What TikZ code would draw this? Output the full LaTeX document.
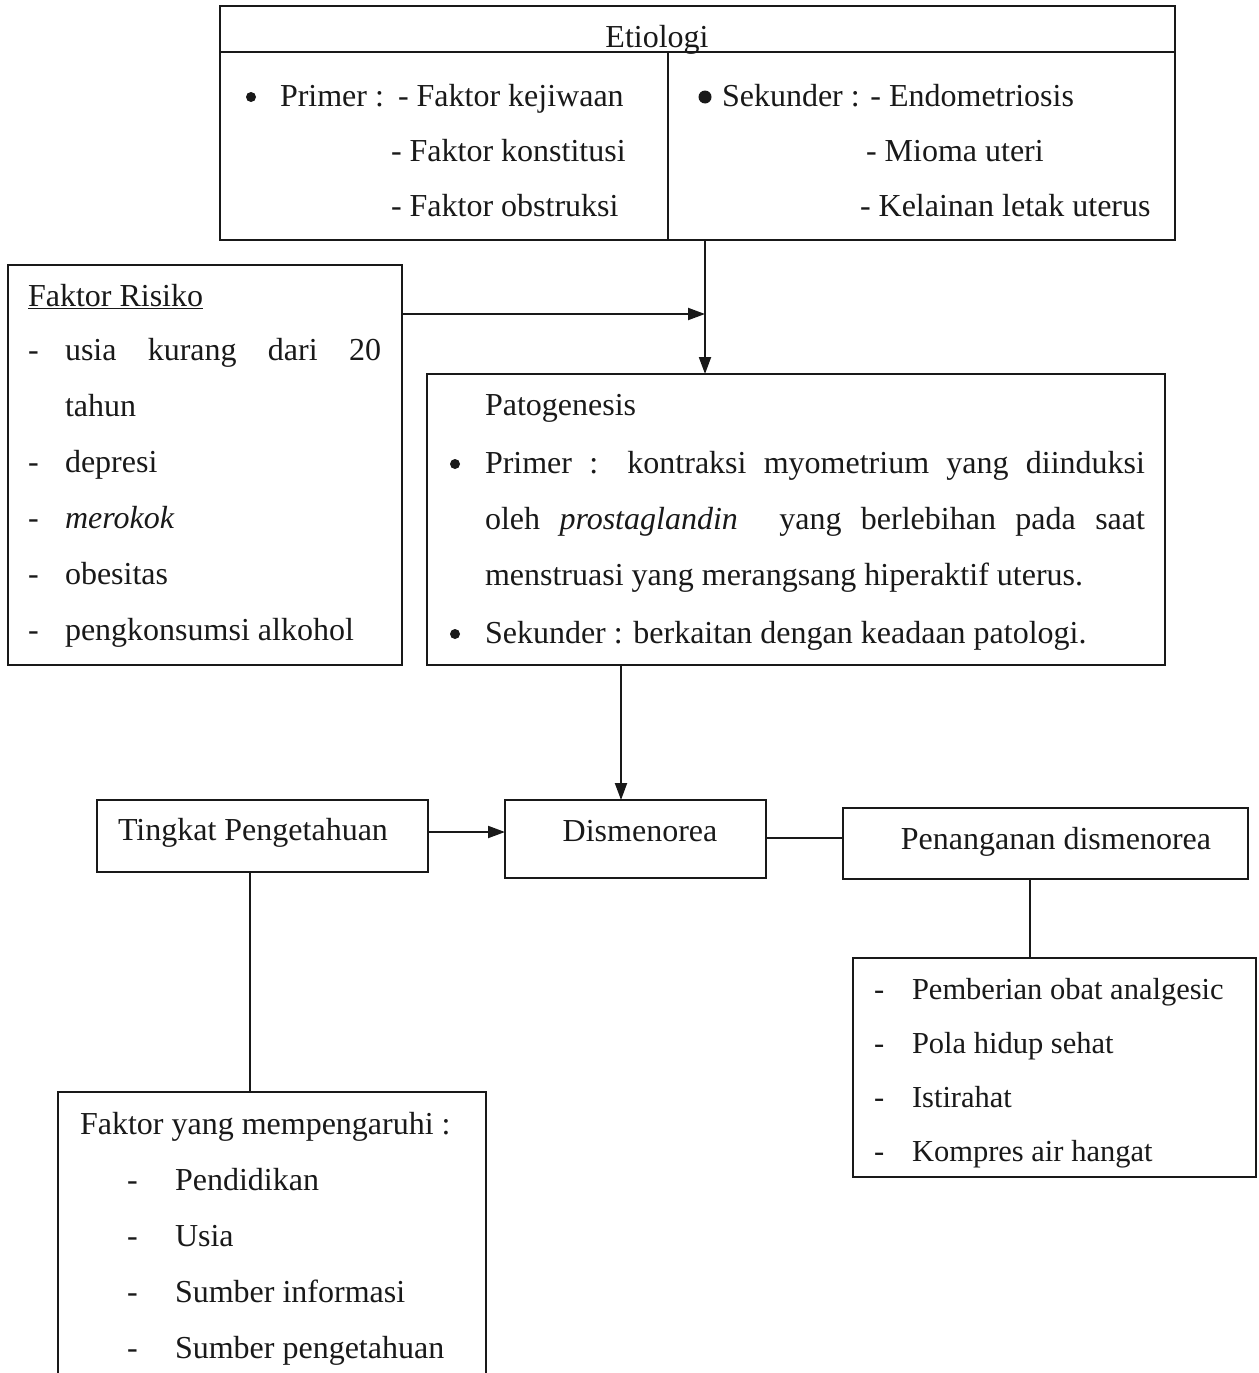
\documentclass[tikz,border=0pt]{standalone}
\usepackage{fontspec}
\setmainfont{Liberation Serif}
\usetikzlibrary{arrows.meta}
\begin{document}
\begin{tikzpicture}[x=1pt,y=-1pt,font=\fontsize{32}{38}\selectfont,
  box/.style={draw=black!90,line width=2.2pt,inner sep=0pt,outer sep=0pt,anchor=north west},
  openbox/.style={inner sep=0pt,outer sep=0pt,anchor=north west},
  txt/.style={anchor=base west,inner sep=0pt,outer sep=0pt,text=black!90},
  ctxt/.style={anchor=base,inner sep=0pt,outer sep=0pt,text=black!90},
  small/.style={font=\fontsize{30.5}{36}\selectfont},
  bul/.style={anchor=center,inner sep=0pt,outer sep=0pt,circle,fill=black!90,minimum size=10pt},
  conn/.style={draw=black!90,line width=2pt},
  arr/.style={conn,-{Triangle[length=17pt,width=12pt]}}]
\useasboundingbox[fill=white] (0,0) rectangle (1258,1373);

% ---------- boxes ----------
\node[box,minimum width=955pt,minimum height=234pt] (etio) at (220,6) {};
\node[box,minimum width=394pt,minimum height=400pt] (risk) at (8,265) {};
\node[box,minimum width=738pt,minimum height=291pt] (pato) at (427,374) {};
\node[box,minimum width=331pt,minimum height=72pt] (ting) at (97,800) {};
\node[box,minimum width=261pt,minimum height=78pt] (dism) at (505,800) {};
\node[box,minimum width=405pt,minimum height=71pt] (pen) at (843,808) {};
\node[box,minimum width=403pt,minimum height=219pt] (list) at (853,958) {};
\node[openbox,minimum width=428pt,minimum height=290pt] (fak) at (58,1092) {};
\draw[conn,line width=2.2pt] (fak.south west) -- (fak.north west) -- (fak.north east) -- (fak.south east);

% Etiologi table lines
\draw[conn,line width=2.2pt] ([yshift=-46pt]etio.north west) -- ([yshift=-46pt]etio.north east);
\coordinate (dv) at (668,0);
\draw[conn,line width=2.2pt] ([yshift=-46pt]etio.north -| dv) -- (etio.south -| dv);

% ---------- texts ----------
\node[ctxt] (t-etio) at (657,47) {Etiologi};
\node[bul] (t-b1) at (251,97) {};
\node[txt] (t-prim) at (280,106) {Primer :};
\node[txt] (t-p1) at (398,106) {- Faktor kejiwaan};
\node[txt] (t-p2) at (391,161) {- Faktor konstitusi};
\node[txt] (t-p3) at (391,216) {- Faktor obstruksi};
\node[bul,minimum size=13pt] (t-b2) at (705,97) {};
\node[txt] (t-s0) at (722,106) {Sekunder : - Endometriosis};
\node[txt] (t-s2) at (866,161) {- Mioma uteri};
\node[txt] (t-s3) at (860,216) {- Kelainan letak uterus};

\node[txt] (t-risk) at (28,306) {\underline{Faktor Risiko}};
\node[txt] (t-rd1) at (28,360) {-};
\node[txt] (t-r1) at (65,360) {\makebox[316pt][s]{usia kurang dari 20}};
\node[txt] (t-r1b) at (65,416) {tahun};
\node[txt] (t-rd2) at (28,472) {-};
\node[txt] (t-r2) at (65,472) {depresi};
\node[txt] (t-rd3) at (28,528) {-};
\node[txt] (t-r3) at (65,528) {\textit{merokok}};
\node[txt] (t-rd4) at (28,584) {-};
\node[txt] (t-r4) at (65,584) {obesitas};
\node[txt] (t-rd5) at (28,640) {-};
\node[txt] (t-r5) at (65,640) {pengkonsumsi alkohol};

\node[txt] (t-pato) at (485,415) {Patogenesis};
\node[bul] (t-pb1) at (455,464) {};
\node[txt] (t-pa1) at (485,473) {\makebox[660pt][s]{Primer : kontraksi myometrium yang diinduksi}};
\node[txt] (t-pa2) at (485,529) {\makebox[660pt][s]{oleh \textit{prostaglandin}\hspace{22pt} yang berlebihan pada saat}};
\node[txt] (t-pa3) at (485,585) {menstruasi yang merangsang hiperaktif uterus.};
\node[bul] (t-pb2) at (455,634) {};
\node[txt] (t-pa4) at (485,643) {Sekunder : berkaitan dengan keadaan patologi.};

\node[ctxt] (t-ting) at (253,840) {Tingkat Pengetahuan};
\node[ctxt] (t-dism) at (640,841) {Dismenorea};
\node[ctxt] (t-pen) at (1056,849) {Penanganan dismenorea};

\node[txt,small] (t-ld1) at (874,999) {-};
\node[txt,small] (t-l1) at (912,999) {Pemberian obat analgesic};
\node[txt,small] (t-ld2) at (874,1053) {-};
\node[txt,small] (t-l2) at (912,1053) {Pola hidup sehat};
\node[txt,small] (t-ld3) at (874,1107) {-};
\node[txt,small] (t-l3) at (912,1107) {Istirahat};
\node[txt,small] (t-ld4) at (874,1161) {-};
\node[txt,small] (t-l4) at (912,1161) {Kompres air hangat};

\node[txt] (t-fak) at (80,1134) {Faktor yang mempengaruhi :};
\node[txt] (t-fd1) at (127,1190) {-};
\node[txt] (t-f1) at (175,1190) {Pendidikan};
\node[txt] (t-fd2) at (127,1246) {-};
\node[txt] (t-f2) at (175,1246) {Usia};
\node[txt] (t-fd3) at (127,1302) {-};
\node[txt] (t-f3) at (175,1302) {Sumber informasi};
\node[txt] (t-fd4) at (127,1358) {-};
\node[txt] (t-f4) at (175,1358) {Sumber pengetahuan};

% ---------- connectors ----------
\coordinate (j) at (705,314);
\draw[arr] (etio.south -| j) -- (pato.north -| j);
\draw[arr] (risk.east |- j) -- (j);
\coordinate (k) at (621,0);
\draw[arr] (pato.south -| k) -- (dism.north -| k);
\coordinate (m) at (0,832);
\draw[arr] (ting.east |- m) -- (dism.west |- m);
\coordinate (n) at (0,838);
\draw[conn] (dism.east |- n) -- (pen.west |- n);
\coordinate (p) at (1030,0);
\draw[conn] (pen.south -| p) -- (list.north -| p);
\coordinate (q) at (250,0);
\draw[conn] (ting.south -| q) -- (fak.north -| q);
\end{tikzpicture}
\end{document}
